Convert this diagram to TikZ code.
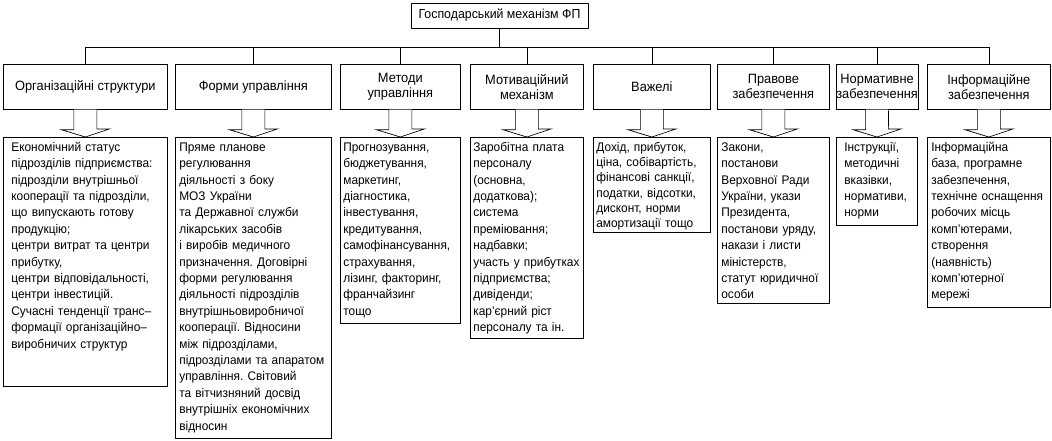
\documentclass[tikz,border=0pt]{standalone}
\usepackage{fontspec}
\setmainfont{Liberation Sans}[FakeStretch=0.95]
\usetikzlibrary{positioning}
\frenchspacing

\begin{document}
\begin{tikzpicture}[x=1pt, y=-1pt, line width=0.7pt,
    every node/.style={font=\fontsize{12.5}{16.4}\selectfont},
    branch/.style={draw, anchor=north west, minimum width=#1, minimum height=45pt,
      inner sep=0pt, align=center, font=\fontsize{13.5}{15}\selectfont},
    detail/.style={draw, anchor=north west, align=left, text width=#1,
      inner xsep=3pt, inner ysep=4pt, text height=10pt}]
    \useasboundingbox (0,0) rectangle (1052,440);

    % Верхній вузол
    \node[draw, minimum width=177pt, minimum height=25pt, inner sep=0pt,
      font=\fontsize{13}{15}\selectfont] (fp) at (499.5,15.5) {Господарський механізм ФП};

    % Складові механізму
    \node[branch=164pt] (grp1) at (3,64) {Організаційні структури};
    \node[branch=156pt] (grp2) at (175,64) {Форми управління};
    \node[branch=120pt] (grp3) at (340,64) {Методи\\управління};
    \node[branch=113pt] (grp4) at (470,64) {Мотиваційний\\механізм};
    \node[branch=117pt] (grp5) at (593,64) {Важелі};
    \node[branch=112pt] (grp6) at (717,64) {Правове\\забезпечення};
    \node[branch=81pt] (grp7) at (836,64) {Нормативне\\забезпечення};
    \node[branch=123pt] (grp8) at (927,64) {Інформаційне\\забезпечення};

    % Зміст складових
    \node[detail=148pt, inner xsep=8pt, text depth=231pt] (det1) at (3,137) {Економічний статус\\підрозділів підприємства:\\підрозділи внутрішньої\\кооперації та підрозділи,\\що випускають готову\\продукцію;\\центри витрат та центри\\прибутку,\\центри відповідальності,\\центри інвестицій.\\Сучасні тенденції транс–\\формації організаційно–\\виробничих структур};
    \node[detail=148pt, inner xsep=4pt, text depth=283pt] (det2) at (175,137) {Пряме планове\\регулювання\\діяльності з боку\\МОЗ України\\та Державної служби\\лікарських засобів\\і виробів медичного\\призначення. Договірні\\форми регулювання\\діяльності підрозділів\\внутрішньовиробничої\\кооперації. Відносини\\між підрозділами,\\підрозділами та апаратом\\управління. Світовий\\та вітчизняний досвід\\внутрішніх економічних\\відносин};
    \node[detail=114pt, text depth=168pt] (det3) at (340,137) {Прогнозування,\\бюджетування,\\маркетинг,\\діагностика,\\інвестування,\\кредитування,\\самофінансування,\\страхування,\\лізинг, факторинг,\\франчайзинг\\тощо};
    \node[detail=107pt, text depth=183pt] (det4) at (470,137) {Заробітна плата\\персоналу\\(основна,\\додаткова);\\система\\преміювання;\\надбавки;\\участь у прибутках\\підприємства;\\дивіденди;\\кар'єрний ріст\\персоналу та ін.};
    \node[detail=111pt, text depth=77pt, font=\fontsize{12.5}{15.3}\selectfont] (det5) at (593,137) {Дохід, прибуток,\\ціна, собівартість,\\фінансові санкції,\\податки, відсотки,\\дисконт, норми\\амортизації тощо};
    \node[detail=104pt, inner xsep=4pt, text depth=148pt] (det6) at (717,137) {Закони,\\постанови\\Верховної Ради\\України, укази\\Президента,\\постанови уряду,\\накази і листи\\міністерств,\\статут юридичної\\особи};
    \node[detail=65pt, inner xsep=8pt, text depth=70pt] (det7) at (836,137) {Інструкції,\\методичні\\вказівки,\\нормативи,\\норми};
    \node[detail=115pt, inner xsep=4pt, text depth=152pt] (det8) at (927,137) {Інформаційна\\база, програмне\\забезпечення,\\технічне оснащення\\робочих місць\\комп'ютерами,\\створення\\(наявність)\\комп'ютерної\\мережі};

    % Шина від верхнього вузла
    \draw (fp.south) -- ++(0,19) coordinate (bus);
    \draw (grp1.north |- bus) -- (grp8.north |- bus);
    \foreach \i in {1,...,8}
        \draw (grp\i.north |- bus) -- (grp\i.north);

    % Контурні стрілки
    \foreach \i in {1,...,8}
        \draw[fill=white] ([xshift=-11.5pt]grp\i.south) -- ++(0,20) -- ++(-12.5,0)
            -- (det\i.north) -- ++(24,-8) -- ++(-12.5,0) -- ([xshift=11.5pt]grp\i.south);
\end{tikzpicture}
\end{document}
